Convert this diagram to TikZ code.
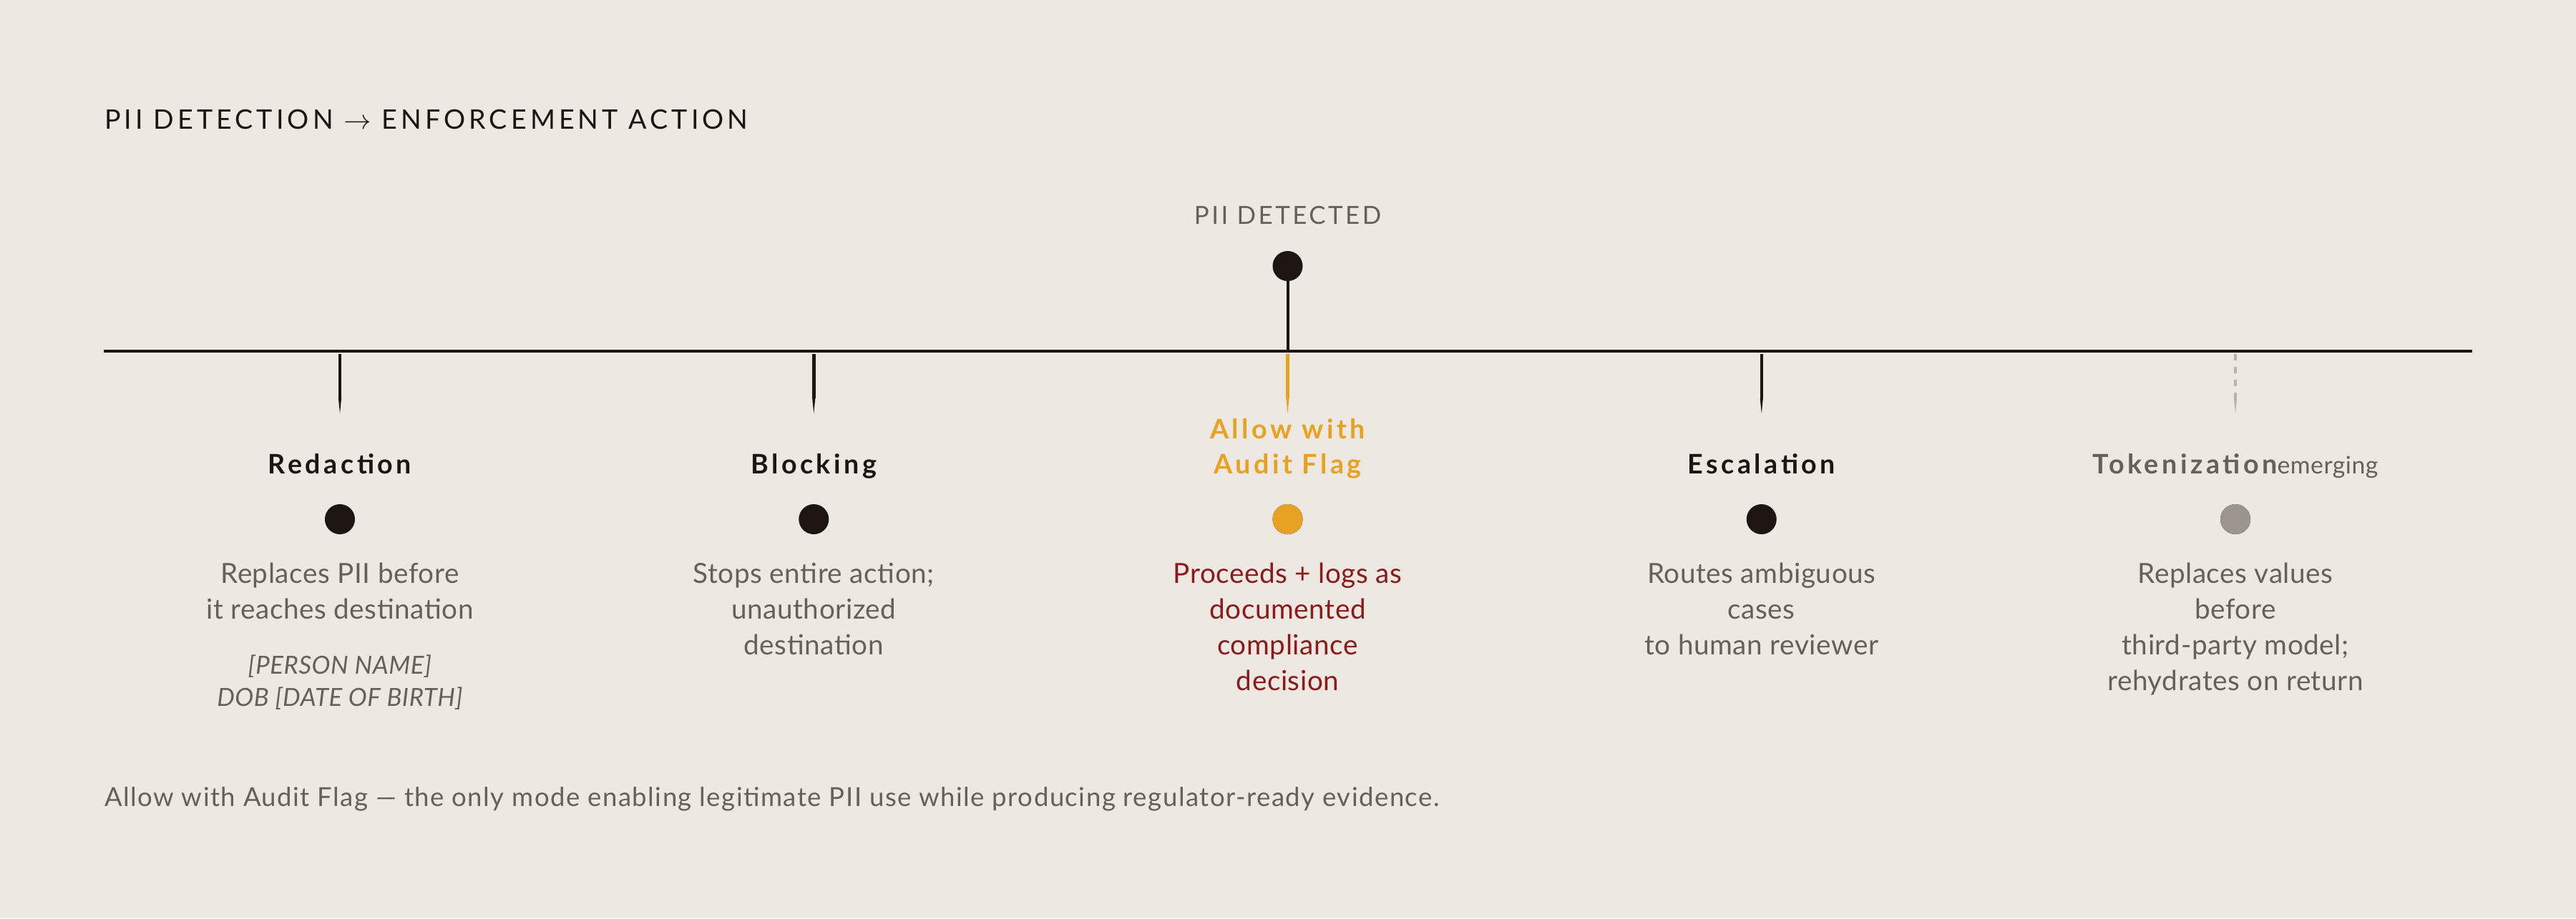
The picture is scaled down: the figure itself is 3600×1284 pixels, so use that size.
\documentclass[tikz,border=0pt]{standalone}
\usepackage{fontspec}
\setmainfont{Lato}[LetterSpace=1.5]
\newfontfamily\trackedfont[LetterSpace=13.5]{Lato}
\newfontfamily\detectfont[LetterSpace=10]{Lato}
\newfontfamily\labelfont[LetterSpace=12]{Lato}
\newfontfamily\notefont[LetterSpace=4]{Lato}
\usetikzlibrary{arrows.meta}

\definecolor{paper}{HTML}{EDE8E1}
\definecolor{ink}{HTML}{1C1512}
\definecolor{muted}{HTML}{67605A}
\definecolor{amber}{HTML}{E8A223}
\definecolor{oxblood}{HTML}{8B1A1A}
\definecolor{stone}{HTML}{9C958F}
\definecolor{ash}{HTML}{B8B2AB}

\def\X{662.25}

\begin{document}
\begin{tikzpicture}[x=0.01cm, y=-0.01cm, >={Triangle[length=6pt,width=1.2pt,line width=0pt]},
  every node/.style={inner sep=0pt, outer sep=0pt},
  needle/.style={line width=0.045cm, ->},
  dot/.style={circle, fill=ink, minimum size=0.42cm},
  heading/.style={font=\labelfont\bfseries\fontsize{10.7}{13.66}\selectfont, text=ink, align=center},
  desc/.style={font=\fontsize{11}{14.2}\selectfont, text=muted, align=center}]

  % paper
  \fill[paper] (0,0) rectangle (3600,1284);
  \useasboundingbox (0,0) rectangle (3600,1284);

  % title
  \node [anchor=base west, font=\trackedfont\fontsize{10.7}{13}\selectfont, text=ink]
    (title) at (146,180) {PII DETECTION $\rightarrow$ ENFORCEMENT ACTION};

  % draw timeline
  \coordinate (line-l) at (145,491);
  \coordinate (line-r) at (3455,491);
  \draw [ink, line width=0.04cm] (line-l) -- (line-r);

  % detection point
  \node [dot] (detect) at (1799.5,372) {};
  \node [anchor=base, font=\detectfont\fontsize{9.9}{12}\selectfont, text=muted]
    (detect-label) at (detect |- 0,313) {PII DETECTED};
  \draw [ink, line width=0.04cm] (detect.south) -- (detect.south |- line-l);

  % draw needles and dots
  \foreach \m [count=\i] in {ink, ink, amber, ink, ash}
  {
    \coordinate (top-\i) at (475 + \X*\i - \X, 495);
    \coordinate (tip-\i) at (475 + \X*\i - \X, 578);
    \node [dot] (mode-\i) at (475 + \X*\i - \X, 726) {};
  }
  \foreach \i in {1, 2, 4}
  \draw [needle, ink] (top-\i) -- (tip-\i);
  \draw [needle, amber] (top-3) -- (tip-3);
  \draw [needle, ash, dash pattern=on 0.09cm off 0.09cm] (top-5) -- (tip-5);
  \node [dot, fill=amber] at (mode-3) {};
  \node [dot, fill=stone] at (mode-5) {};

  % mode names (base = last line)
  \node [heading, anchor=base] (name-1) at (mode-1 |- 0,662) {Redaction};
  \node [heading, anchor=base] (name-2) at (mode-2 |- 0,662) {Blocking};
  \node [heading, anchor=base, text=amber] (name-3) at (mode-3 |- 0,662) {Allow with\\Audit Flag};
  \node [heading, anchor=base] (name-4) at (mode-4 |- 0,662) {Escalation};
  \node [heading, anchor=base, text=muted] (name-5) at (mode-5 |- 0,662)
    {Tokenization{\rmfamily\mdseries\fontsize{9.6}{12}\selectfont emerging}};

  % descriptions
  \node [desc, anchor=base] (text-1) at (mode-1 |- 0,865) {Replaces PII before\\it reaches destination};
  \node [desc, anchor=base, font=\itshape\fontsize{9.9}{12.8}\selectfont] (example-1) at (mode-1 |- 0,987)
    {[PERSON NAME]\\DOB [DATE OF BIRTH]};
  \node [desc, anchor=base] (text-2) at (mode-2 |- 0,915) {Stops entire action;\\unauthorized\\destination};
  \node [desc, anchor=base, text=oxblood] (text-3) at (mode-3 |- 0,965)
    {Proceeds + logs as\\documented\\compliance\\decision};
  \node [desc, anchor=base] (text-4) at (mode-4 |- 0,915) {Routes ambiguous\\cases\\to human reviewer};
  \node [desc, anchor=base] (text-5) at (mode-5 |- 0,965)
    {Replaces values\\before\\third-party model;\\rehydrates on return};

  % footnote
  \node [anchor=base west, font=\notefont\fontsize{10.4}{12}\selectfont, text=muted] (note) at (146,1127)
    {Allow with Audit Flag — the only mode enabling legitimate PII use while producing regulator-ready evidence.};

\end{tikzpicture}
\end{document}
